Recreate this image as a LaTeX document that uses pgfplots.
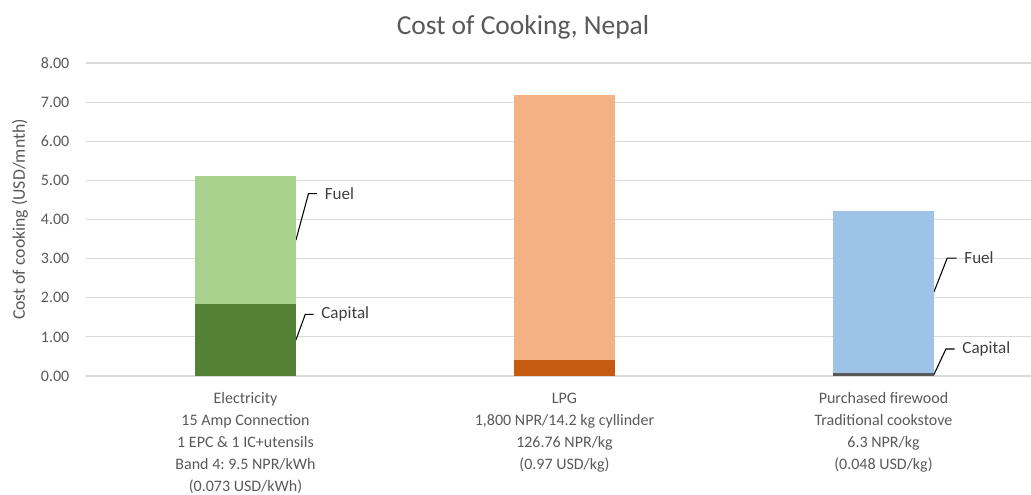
\documentclass[border=0pt]{standalone}
\usepackage{fontspec}
\setmainfont{Carlito}
\usepackage{pgfplots}
\pgfplotsset{compat=1.18}
\frenchspacing

\definecolor{txtgray}{HTML}{595959}
\definecolor{lblgray}{HTML}{404040}
\definecolor{gridgray}{HTML}{D9D9D9}
\definecolor{elecCap}{HTML}{548235}
\definecolor{elecFuel}{HTML}{A9D18E}
\definecolor{lpgCap}{HTML}{C55A11}
\definecolor{lpgFuel}{HTML}{F4B183}
\definecolor{woodCap}{HTML}{595959}
\definecolor{woodFuel}{HTML}{9DC3E6}

\begin{document}
\begin{tikzpicture}
\path[use as bounding box] (-64.5pt,-89.25pt) rectangle (708.75pt,282pt);
\begin{axis}[
  scale only axis,
  width=717.75pt, height=234.75pt,
  xmin=-0.5, xmax=2.5,
  ymin=0, ymax=8,
  ybar stacked,
  bar width=75.75pt,
  axis line style={draw=none},
  major tick length=0pt,
  ymajorgrids,
  grid style={gridgray, line width=0.9pt},
  ytick={0,1,...,8},
  yticklabel style={
    /pgf/number format/.cd, fixed, fixed zerofill, precision=2, assume math mode=true,
    /tikz/.cd, font=\fontsize{12}{14}\selectfont, text=txtgray, xshift=-9pt},
  xtick={0,1,2},
  xticklabels={
    {Electricity\\15 Amp Connection\\1 EPC \& 1 IC+utensils\\Band 4: 9.5 NPR/kWh\\(0.073 USD/kWh)},
    {LPG\\1,800 NPR/14.2 kg cyllinder\\126.76 NPR/kg\\(0.97 USD/kg)},
    {Purchased firewood\\Traditional cookstove\\6.3 NPR/kg\\(0.048 USD/kg)}},
  xticklabel style={align=center, font=\fontsize{12}{16.5}\selectfont, text=txtgray, yshift=-9pt},
  ylabel={Cost of cooking (USD/mnth)},
  every axis y label/.style={at={(rel axis cs:0,0.5)}, xshift=-49.5pt, rotate=90, anchor=center,
    font=\fontsize{13.3}{15}\selectfont, text=txtgray},
  title={Cost of Cooking, Nepal},
  every axis title/.style={at={(rel axis cs:0,1)}, anchor=center, xshift=327.75pt, yshift=27pt,
    font=\fontsize{20.6}{24}\selectfont, text=txtgray},
  clip=false,
]
% capital costs, one series per technology
\addplot[fill=elecCap, draw=none]  coordinates {(0,1.84) (1,0) (2,0)};
\addplot[fill=lpgCap, draw=none]   coordinates {(0,0) (1,0.41) (2,0)};
\addplot[fill=woodCap, draw=none]  coordinates {(0,0) (1,0) (2,0.07)};
% fuel costs stacked on top
\addplot[fill=elecFuel, draw=none] coordinates {(0,3.26) (1,0) (2,0)};
\addplot[fill=lpgFuel, draw=none]  coordinates {(0,0) (1,6.78) (2,0)};
\addplot[fill=woodFuel, draw=none] coordinates {(0,0) (1,0) (2,4.15)};

% data labels with leader lines
\tikzset{lead/.style={black, line width=0.8pt}, dl/.style={anchor=west, text=lblgray, font=\fontsize{12.8}{14}\selectfont, inner sep=0pt}}
\draw[lead] (axis cs:0.158,3.47) -- ++(9.45pt,35pt) -- ++(6.3pt,0pt) node[dl, xshift=5.5pt] {Fuel};
\draw[lead] (axis cs:0.158,0.92) -- ++(7pt,19.2pt) -- ++(6.2pt,0pt) node[dl, xshift=5.5pt] {Capital};
\draw[lead] (axis cs:2.158,2.145) -- ++(10pt,25.5pt) -- ++(7pt,0pt) node[dl, xshift=5.5pt] {Fuel};
\draw[lead] (axis cs:2.158,0.035) -- ++(9pt,19.2pt) -- ++(6.5pt,0pt) node[dl, xshift=5.5pt] {Capital};
\end{axis}
\end{tikzpicture}
\end{document}
